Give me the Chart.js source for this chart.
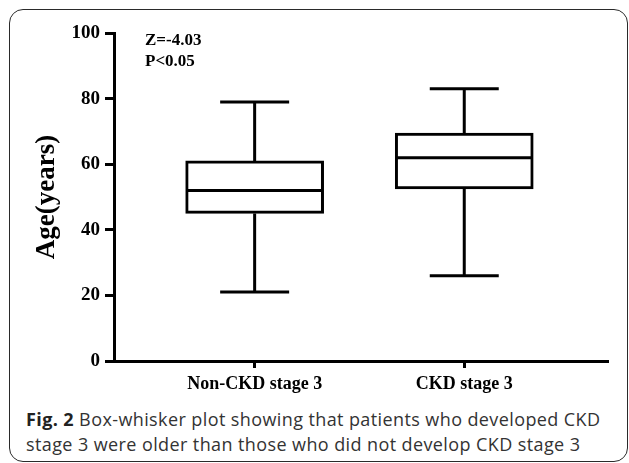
<!DOCTYPE html>
<html>
<head>
<meta charset="utf-8">
<script src="https://cdn.jsdelivr.net/npm/chart.js@4"></script>
<style>
  body { margin:0; background:#fff; width:629px; height:463px; overflow:hidden; position:relative; }
  #frame { position:absolute; left:9px; top:9px; width:619px; height:453px; box-sizing:border-box;
           border:1.5px solid #2a2a2a; border-radius:14px; }
  #wrap { position:absolute; left:0; top:0; width:629px; height:400px; }
  #caption { position:absolute; left:26px; top:407px; font-family:"Open Sans", sans-serif; font-size:18px;
             letter-spacing:0.4px; line-height:25px; color:#333; white-space:nowrap; }
  #caption b { color:#222; }
</style>
</head>
<body>
<div id="frame"></div>
<div id="wrap"><canvas id="boxChart" width="629" height="400"></canvas></div>
<div id="caption"><b>Fig. 2</b> Box-whisker plot showing that patients who developed CKD<br>stage 3 were older than those who did not develop CKD stage 3</div>
<script>
var groups = ["Non-CKD stage 3", "CKD stage 3"];
var mins = [21, 26];
var q1s = [45, 52.5];
var medians = [52, 62];
var q3s = [61, 69.5];
var maxs = [79, 83];
var yTicks = [0, 20, 40, 60, 80, 100];
var statLines = ["Z=-4.03", "P<0.05"];

var serif = "'Liberation Serif', 'Times New Roman', serif";

var boxData = [];
for (var i = 0; i < groups.length; i++) {
  boxData.push({x: i, y: [q1s[i], q3s[i]]});
}

// whiskers, caps and medians drawn through the chart scales
var whiskerPlugin = {
  id: "whiskers",
  afterDatasetsDraw: function(chart) {
    var ctx = chart.ctx, xs = chart.scales.x, ys = chart.scales.y;
    var half = 69;
    var cap = 34.5;
    ctx.save();
    ctx.strokeStyle = "#000";
    ctx.lineWidth = 3;
    ctx.lineCap = "butt";
    for (var i = 0; i < groups.length; i++) {
      var cx = xs.getPixelForValue(i);
      ctx.beginPath();
      // median
      ctx.moveTo(cx - half + 1.5, ys.getPixelForValue(medians[i]));
      ctx.lineTo(cx + half - 1.5, ys.getPixelForValue(medians[i]));
      // upper whisker
      ctx.moveTo(cx, ys.getPixelForValue(q3s[i]));
      ctx.lineTo(cx, ys.getPixelForValue(maxs[i]));
      ctx.moveTo(cx - cap, ys.getPixelForValue(maxs[i]));
      ctx.lineTo(cx + cap, ys.getPixelForValue(maxs[i]));
      // lower whisker
      ctx.moveTo(cx, ys.getPixelForValue(q1s[i]));
      ctx.lineTo(cx, ys.getPixelForValue(mins[i]));
      ctx.moveTo(cx - cap, ys.getPixelForValue(mins[i]));
      ctx.lineTo(cx + cap, ys.getPixelForValue(mins[i]));
      ctx.stroke();
    }
    // stats text
    ctx.fillStyle = "#000";
    ctx.font = "bold 17px " + serif;
    ctx.textAlign = "left";
    ctx.textBaseline = "alphabetic";
    var left = chart.chartArea.left + 31;
    ctx.fillText(statLines[0], left, 45);
    ctx.fillText(statLines[1], left, 66);
    ctx.restore();
  }
};

var ctx = document.getElementById("boxChart").getContext("2d");
new Chart(ctx, {
  type: "bar",
  data: {
    datasets: [{
      data: boxData,
      backgroundColor: "#fff",
      borderColor: "#000",
      borderWidth: 3,
      borderSkipped: false,
      barThickness: 138
    }]
  },
  options: {
    responsive: false,
    animation: false,
    layout: { padding: { top: 33, right: 22, left: 0, bottom: 0 } },
    plugins: { legend: { display: false }, tooltip: { enabled: false } },
    scales: {
      x: {
        type: "linear",
        offset: false,
        min: -0.671,
        max: 1.681,
        afterBuildTicks: function(scale) {
          scale.ticks = groups.map(function(g, i) { return {value: i}; });
        },
        afterFit: function(scale) { scale.height = 39; },
        ticks: {
          autoSkip: false,
          padding: 6,
          color: "#000",
          font: { family: serif, size: 18, weight: "bold" },
          callback: function(v) { return groups[v]; }
        },
        grid: { offset: false, drawOnChartArea: false, drawTicks: true, tickLength: 7, lineWidth: 3, color: "#000" },
        border: { display: true, width: 3, color: "#000" }
      },
      y: {
        min: 0,
        max: 100,
        afterBuildTicks: function(scale) {
          scale.ticks = yTicks.map(function(v) { return {value: v}; });
        },
        afterFit: function(scale) { scale.width = 114; },
        ticks: {
          padding: 5,
          color: "#000",
          font: { family: serif, size: 19, weight: "bold" }
        },
        grid: { drawOnChartArea: false, drawTicks: true, tickLength: 9, lineWidth: 3, color: "#000" },
        border: { display: true, width: 3, color: "#000" },
        title: {
          display: true,
          text: "Age(years)",
          color: "#000",
          font: { family: serif, size: 27, weight: "bold" },
          padding: { top: 31 }
        }
      }
    }
  },
  plugins: [whiskerPlugin]
});
</script>
</body>
</html>
